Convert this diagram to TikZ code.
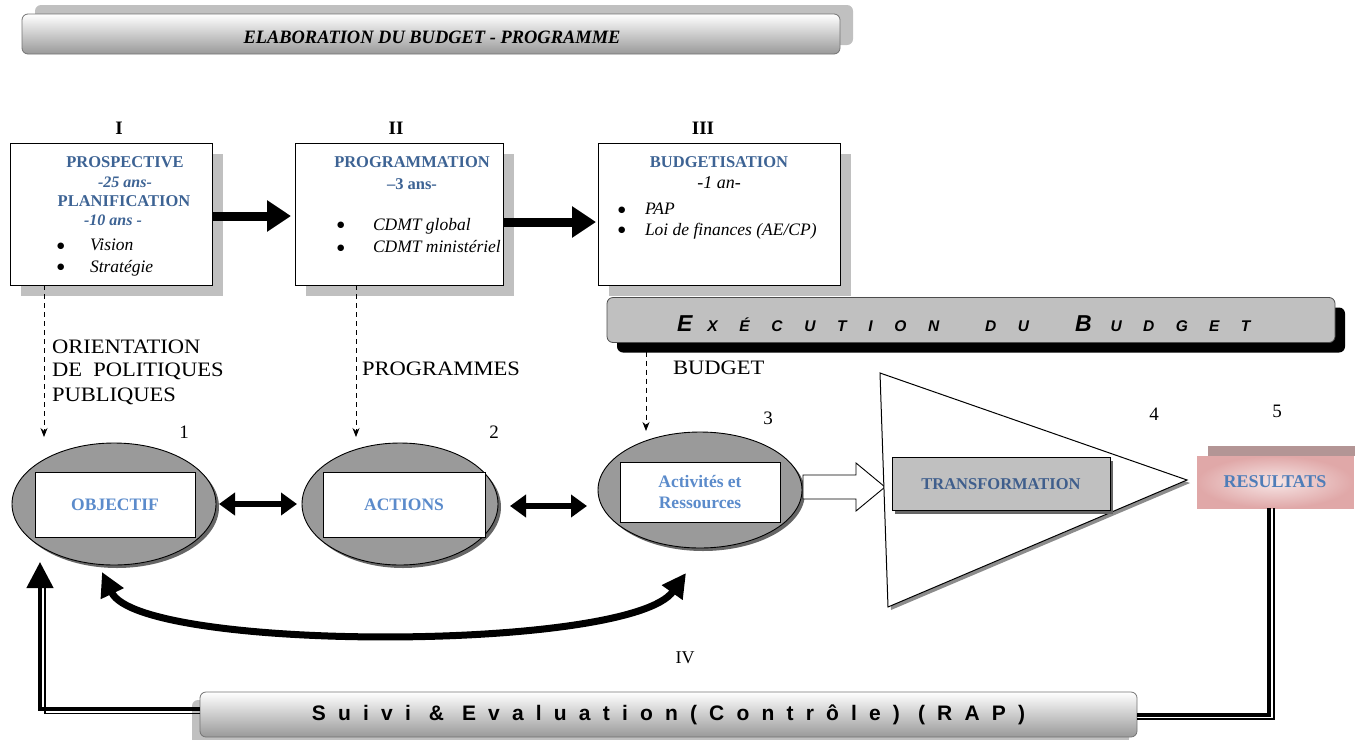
\documentclass[tikz,border=0pt]{standalone}
\usepackage{fontspec}
\setmainfont{Liberation Serif}
\setsansfont{Liberation Sans}
\newfontfamily\dejavu{DejaVu Sans}
\usetikzlibrary{arrows.meta,shadows,shapes.geometric,calc}
\definecolor{hblue}{HTML}{3D6394}
\definecolor{lblue}{HTML}{5B8BCB}
\definecolor{tblue}{HTML}{3F5E8C}
\definecolor{rblue}{HTML}{4F7DB8}
\definecolor{ellgray}{HTML}{9A9A9A}
\definecolor{shgray}{HTML}{C0C0C0}
\definecolor{pinkA}{HTML}{F7E6E6}
\definecolor{pinkB}{HTML}{E0A8A8}
\definecolor{mauve}{HTML}{B39595}
\newcommand\fs[1]{\fontsize{#1}{#1}\selectfont}
\newcommand\wider[1]{\scalebox{1.1}[1]{#1}}
\newcommand\bitem[2]{\makebox[#1][l]{\raisebox{2.5pt}{\dejavu\upshape\fontsize{8.5}{8.5}\selectfont ●}}#2}
\begin{document}
\begin{tikzpicture}[x=1pt,y=-1pt,
  every node/.style={inner sep=0pt,outer sep=0pt},
  stagebox/.style={draw=black,line width=0.9pt,fill=white,
    drop shadow={shadow xshift=11pt,shadow yshift=-11pt,fill=shgray,opacity=1}},
  head/.style={font=\fs{16.5}\bfseries,text=hblue},
  headit/.style={font=\fs{16}\bfseries\itshape,text=hblue},
  itemtxt/.style={font=\fs{17.5}\itshape,anchor=west},
  roman/.style={font=\fs{19}\bfseries},
  lab/.style={font=\fs{20.5},anchor=base west},
  num/.style={font=\fs{19}},
  bigarrow/.style={line width=9pt,-{Triangle[length=24pt,width=30pt]}},
  dasharr/.style={dash pattern=on 5pt off 4pt,line width=0.8pt,-{Stealth[length=9pt,width=7pt]}},
  ell/.style={ellipse,draw=black,line width=0.9pt,fill=ellgray,
    drop shadow={shadow xshift=3pt,shadow yshift=-3pt,fill=black!60,opacity=1}},
  innerbox/.style={draw=black,fill=white,line width=0.9pt,text=lblue,font=\fontsize{17.5}{21}\selectfont\bfseries,align=center},
  dblarrow/.style={line width=6pt,{Triangle[length=16pt,width=22pt]}-{Triangle[length=16pt,width=22pt]}},
  banner/.style={draw=black!55,line width=0.8pt,rounded corners=6pt,top color=white,bottom color=black!40}
]
\useasboundingbox (0,0) rectangle (1359,739);

% title banner
\node[banner,minimum width=818pt,minimum height=40pt,
  drop shadow={shadow xshift=13pt,shadow yshift=9pt,fill=shgray,opacity=1}] (titlebox) at (431,34) {};
\node (title) at (432,37) {\resizebox{377pt}{12.5pt}{\bfseries\itshape ELABORATION DU BUDGET - PROGRAMME}};

% roman numerals
\node[roman] (r1) at (119,128) {I};
\node[roman] (r2) at (396,128) {II};
\node[roman] (r3) at (703,128) {III};

% stage boxes
\node[stagebox,minimum width=202pt,minimum height=142pt] (b1) at (111,214) {};
\node[stagebox,minimum width=208pt,minimum height=142pt] (b2) at (399,214) {};
\node[stagebox,minimum width=242pt,minimum height=142pt] (b3) at (719,214) {};

% box I text
\node[head] (t1a) at (125,162) {PROSPECTIVE};
\node[headit] (t1b) at (125,182) {-25 ans-};
\node[head] (t1c) at (124,201) {PLANIFICATION};
\node[headit] (t1d) at (113,220) {-10 ans -};
\node[itemtxt] (t1f) at (57,245) {\bitem{33pt}{Vision}};
\node[itemtxt] (t1h) at (57,268) {\bitem{33pt}{Stratégie}};

% box II text
\node[head] (t2a) at (412,162) {PROGRAMMATION};
\node[head] (t2b) at (412,184) {–3 ans-};
\node[itemtxt] (t2d) at (337,226) {\bitem{36pt}{CDMT global}};
\node[itemtxt] (t2f) at (337,247) {\bitem{36pt}{CDMT ministériel}};

% box III text
\node[head] (t3a) at (719,162) {BUDGETISATION};
\node[font=\fs{18}\itshape] (t3b) at (719,183) {-1 an-};
\node[itemtxt] (t3d) at (618,209) {\bitem{27pt}{PAP}};
\node[itemtxt] (t3f) at (618,231) {\bitem{27pt}{Loi de finances (AE/CP)}};

% arrows between stage boxes
\draw[bigarrow] ([yshift=-2pt]b1.east) -- ([yshift=-2pt]b2.west) [shorten >=4pt];
\draw[bigarrow] ([yshift=-8pt]b2.east) -- ([yshift=-8pt]b3.west) [shorten >=2pt];

% execution banner
\node[draw=black!70,line width=0.8pt,fill=shgray,rounded corners=6pt,minimum width=728pt,minimum height=45pt,
  drop shadow={shadow xshift=10pt,shadow yshift=-10pt,fill=black,opacity=1}] (exec) at (971,320) {};
\node[anchor=base west,font=\sffamily\bfseries\itshape] (ex1) at (677,331)
  {{\fs{23}E}\hspace{15pt}{\fs{15.5}\addfontfeatures{LetterSpace=140}XÉCUTION}};
\node[anchor=base west,font=\sffamily\bfseries\itshape] (ex2) at (985,331)
  {{\fs{15.5}\addfontfeatures{LetterSpace=140}DU}};
\node[anchor=base west,font=\sffamily\bfseries\itshape] (ex3) at (1075,331)
  {{\fs{23}B}\hspace{19pt}{\fs{15.5}\addfontfeatures{LetterSpace=138}UDGET}};

% ellipses
\node[ell,minimum width=204pt,minimum height=122pt] (e1) at (114,504) {};
\node[ell,minimum width=196pt,minimum height=122pt] (e2) at (400,504) {};
\node[ell,minimum width=204pt,minimum height=116pt] (e3) at (700,490) {};
\node[innerbox,minimum width=160pt,minimum height=65pt] (o1) at (115,505) {OBJECTIF};
\node[innerbox,minimum width=162pt,minimum height=65pt] (o2) at (404,505) {ACTIONS};
\node[innerbox,minimum width=160pt,minimum height=60pt] (o3) at (700,492) {Activités et\\Ressources};

% dashed arrows and labels
\draw[dasharr] ([xshift=34pt]b1.south west) -- ([xshift=34pt]b1.south west |- e1.north) [shorten >=6pt];
\draw[dasharr] ([xshift=61pt]b2.south west) -- ([xshift=61pt]b2.south west |- e2.north) [shorten >=6pt];
\draw[dasharr] ([xshift=39pt]exec.south west) -- ([xshift=39pt]exec.south west |- e3.north) [shorten >=1pt];
\node[lab] (l1) at (52,353) {\wider{ORIENTATION}};
\node[lab] (l2) at (52,376) {\wider{DE\ \ POLITIQUES}};
\node[lab] (l3) at (52,401) {\wider{PUBLIQUES}};
\node[lab] (l4) at (362,375) {\wider{PROGRAMMES}};
\node[lab] (l5) at (673,374) {\wider{BUDGET}};

% numbers
\node[num] (n1) at (184,432) {1};
\node[num] (n2) at (494,432) {2};
\node[num] (n3) at (768,418) {3};
\node[num] (n4) at (1154,414) {4};
\node[num] (n5) at (1277,411) {5};

% double arrows between ellipses
\draw[dblarrow] (e1.east) -- (e2.west) [shorten <=3pt,shorten >=5pt];
\draw[dblarrow] ([yshift=-2pt]e2.east) -- ([yshift=-2pt]e2.east -| e3.west) [shorten <=12pt,shorten >=11pt];

% hollow arrow
\draw[fill=white,line width=0.9pt] (803,475) -- (856,475) -- (856,463) -- (885,487) -- (856,511) -- (856,499) -- (803,499) -- cycle;

% triangle
\coordinate (ta) at (880,373);
\coordinate (tb) at (1187,480);
\coordinate (tc) at (888,607);
\fill[black!45] ([shift={(3,3)}]ta) -- ([shift={(3,3)}]tb) -- ([shift={(3,3)}]tc) -- cycle;
\draw[fill=white,line width=1pt] (ta) -- (tb) -- (tc) -- cycle;
\node[draw=black,line width=0.9pt,fill=shgray,minimum width=218pt,minimum height=53pt,text=tblue,font=\fs{16.5}\bfseries,
  drop shadow={shadow xshift=3pt,shadow yshift=-3pt,fill=black!60,opacity=1}] (tr) at (1001,484) {TRANSFORMATION};

% results
\fill[mauve] (1208,446) rectangle (1355,456);
\node[draw=pinkB,line width=0.8pt,inner color=pinkA,outer color=pinkB,minimum width=156pt,minimum height=52pt,
  text=rblue,font=\fs{18}\bfseries] (res) at (1275,482) {RESULTATS};

% curved double arrow
\coordinate (c1) at (102,572);
\coordinate (c3) at (686,573);
\draw[line width=7pt,{Triangle[length=24pt,width=24pt]}-{Triangle[length=24pt,width=24pt]}]
  (c1) .. controls (140,652) and (630,652) .. (c3);

\node[font=\fs{18}] (iv) at (685,658) {IV};

% suivi banner
\node[banner,minimum width=937pt,minimum height=45pt,
  drop shadow={shadow xshift=-8pt,shadow yshift=-8pt,fill=shgray,opacity=1},
  font=\sffamily\bfseries\fs{21}\addfontfeatures{LetterSpace=58}] (suivi) at (668.5,714.5) {Suivi \& Evaluation(Contrôle) (RAP)};

% feedback lines
\draw[line width=4.5pt,-{Triangle[length=26pt,width=26pt]}] ([yshift=5.5pt]suivi.west) -| (40,562);
\draw[line width=1.3pt] ([yshift=1pt]suivi.west) -| (45,588);
\draw[line width=4.5pt] ([xshift=-6pt]res.south) |- ([yshift=-0.5pt]suivi.east);
\draw[line width=1.3pt] ([xshift=-1pt]res.south) |- ([yshift=-4.5pt]suivi.east);
\end{tikzpicture}
\end{document}
